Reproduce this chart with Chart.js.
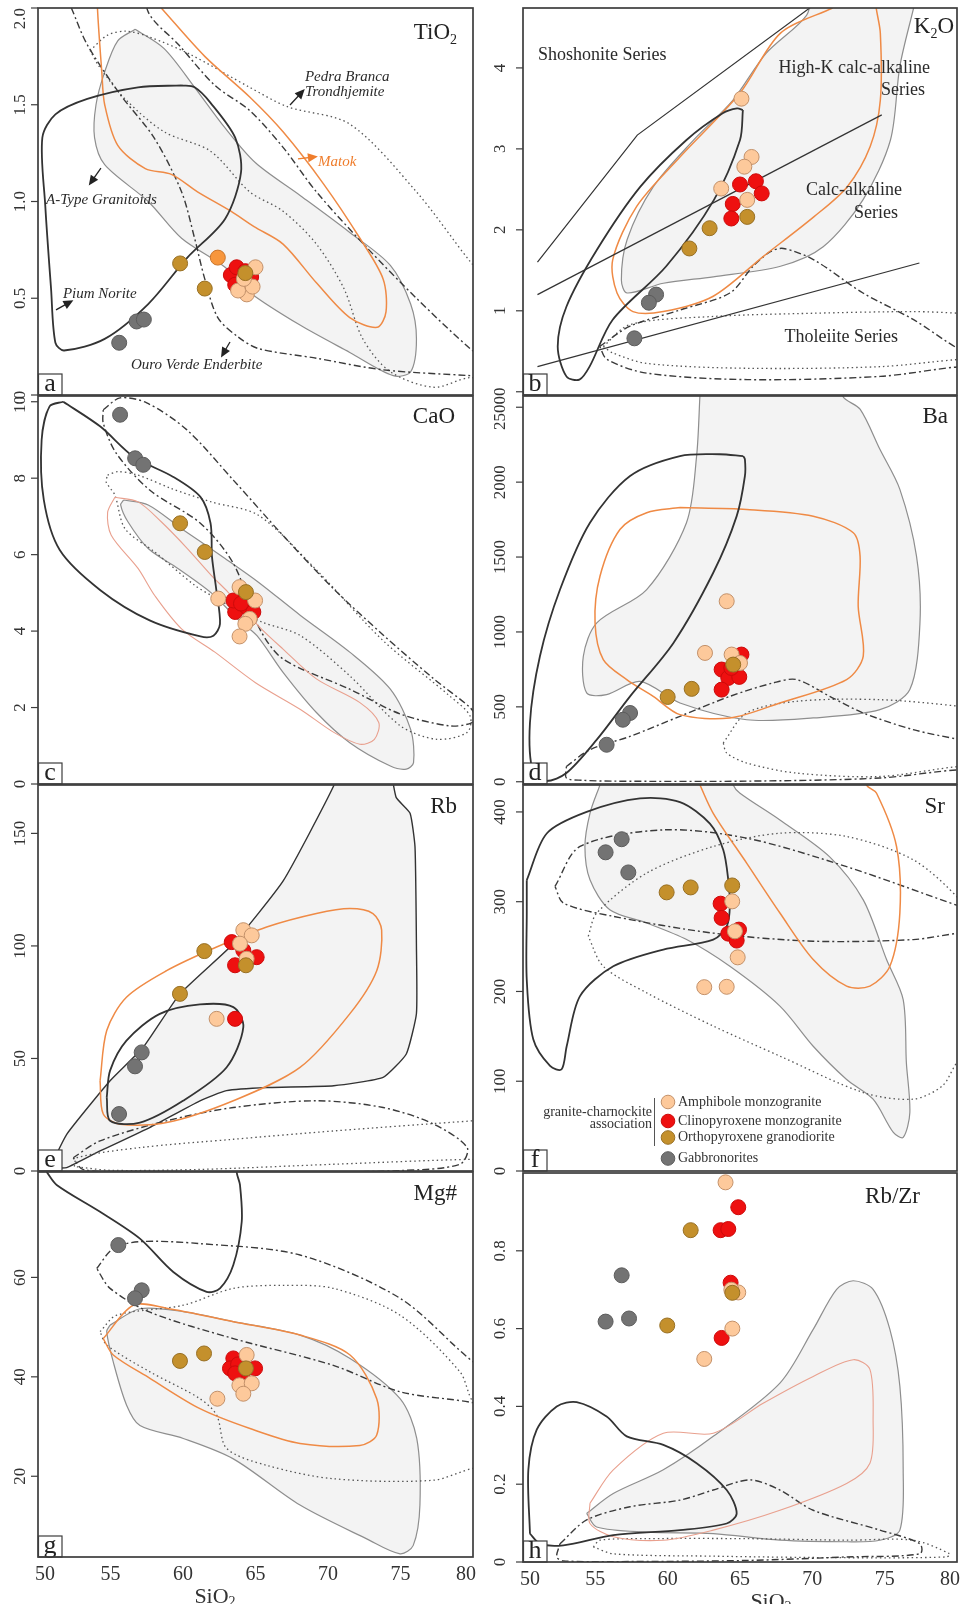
<!DOCTYPE html>
<html>
<head>
<meta charset="utf-8">
<script src="https://cdn.jsdelivr.net/npm/chart.js@4.4.1/dist/chart.umd.min.js"></script>
<style>
  body { margin: 0; background: #fff; }
  #wrap { position: relative; width: 961px; height: 1604px; overflow: hidden; }
  canvas { position: absolute; }
</style>
</head>
<body>
<div id="wrap"></div>
<script>
// ---- shared axis ----
const siTicks = [50, 55, 60, 65, 70, 75, 80];

// ---- a: TiO2 ----
const tiTicks = [0, 0.5, 1, 1.5, 2];
const tiLabels = ['0', '0.5', '1.0', '1.5', '2.0'];
const tiAmph = [[65.0, 0.66], [64.4, 0.52], [63.8, 0.54], [64.8, 0.56], [64.2, 0.60]];
const tiCpx = [[63.3, 0.62], [63.7, 0.66], [64.0, 0.58], [64.3, 0.64], [64.7, 0.61], [63.6, 0.57]];
const tiOpx = [[59.8, 0.68], [61.5, 0.55], [64.3, 0.63]];
const tiGab = [[55.6, 0.27], [56.8, 0.38], [57.3, 0.39]];
const tiOdd = [[62.4, 0.71]];
const tiAType = [[56.7, 1.89], [58.7, 1.79], [60.8, 1.59], [62.9, 1.38], [65.0, 1.20], [68.1, 1.03], [71.5, 0.84], [74.3, 0.67], [75.7, 0.47], [76.1, 0.29], [75.7, 0.12], [74.5, 0.10], [71.5, 0.22], [68.1, 0.36], [64.6, 0.53], [62.9, 0.66], [59.9, 0.81], [57.6, 1.00], [54.6, 1.19], [53.9, 1.33], [54.0, 1.50], [54.6, 1.67], [55.5, 1.83]];
const tiMatok = [[58.5, 2.0], [61.5, 1.75], [64.6, 1.54], [66.9, 1.36], [69.7, 1.09], [72.2, 0.81], [73.8, 0.60], [74.0, 0.43], [73.4, 0.35], [71.5, 0.40], [69.2, 0.58], [66.9, 0.78], [64.9, 0.87], [63.3, 0.95], [61.0, 1.05], [59.2, 1.14], [57.4, 1.17], [55.5, 1.29], [54.6, 1.50], [54.4, 1.67], [54.1, 2.0], [54.0, 2.3], [58.3, 2.3]];
const tiPium = [[59.9, 1.60], [56.9, 1.59], [53.4, 1.53], [51.2, 1.45], [50.3, 1.33], [50.5, 0.98], [50.9, 0.55], [51.2, 0.27], [51.8, 0.23], [54.6, 0.29], [57.6, 0.47], [60.3, 0.71], [62.9, 0.91], [64.0, 1.15], [63.6, 1.33], [61.9, 1.51], [60.8, 1.59]];
const tiOuro = [[52.3, 2.0], [53.4, 1.81], [55.7, 1.55], [58.0, 1.33], [59.9, 1.05], [60.8, 0.81], [61.5, 0.60], [62.4, 0.40], [63.8, 0.30], [65.2, 0.24], [69.2, 0.19], [73.8, 0.13], [79.8, 0.10], [82, 0.09], [82, 0.12], [79.8, 0.24], [76.1, 0.50], [72.7, 0.76], [69.2, 1.05], [66.9, 1.28], [64.6, 1.47], [62.2, 1.60], [59.7, 1.81], [57.6, 1.98], [56.8, 2.3], [52.0, 2.3]];
const tiPedra = [[53.6, 1.78], [54.8, 1.86], [56.1, 1.88], [57.7, 1.85], [60.5, 1.76], [64.6, 1.59], [67.2, 1.49], [71.5, 1.40], [76.1, 1.05], [79.8, 0.69], [82, 0.5], [82, 0.06], [79.8, 0.09], [77.3, 0.04], [74.3, 0.12], [72.4, 0.29], [71.1, 0.55], [69.2, 0.78], [66.9, 0.95], [64.6, 1.05], [61.9, 1.26], [58.7, 1.36], [56.0, 1.53], [54.2, 1.70]];

// ---- b: K2O ----
const kTicks = [0, 1, 2, 3, 4];
const kLabels = ['0', '1', '2', '3', '4'];
const kAmph = [[65.1, 3.62], [65.8, 2.90], [65.3, 2.78], [63.7, 2.51], [65.5, 2.37]];
const kCpx = [[65.0, 2.56], [66.1, 2.60], [66.5, 2.45], [64.5, 2.32], [64.4, 2.14]];
const kOpx = [[65.5, 2.16], [62.9, 2.02], [61.5, 1.77]];
const kGab = [[59.2, 1.20], [58.7, 1.10], [57.7, 0.66]];
const kShoLine = [[51.0, 1.6], [57.9, 3.17], [70.5, 4.83]];
const kHighKLine = [[51.0, 1.2], [74.8, 3.42]];
const kThoLine = [[51.0, 0.31], [77.4, 1.59]];
const kAType = [[77.0, 4.74], [76.05, 4.02], [75.4, 3.11], [73.5, 2.37], [70.75, 1.79], [67.8, 1.55], [63.15, 1.42], [59.7, 1.34], [57.2, 1.22], [56.8, 1.38], [57.2, 1.88], [59.0, 2.53], [61.8, 3.11], [64.5, 3.60], [66.8, 4.18], [69.6, 4.65], [70.5, 5.1], [77.3, 5.1]];
const kMatok = [[71.4, 4.74], [67.8, 4.43], [65.0, 3.69], [60.85, 2.90], [57.86, 2.29], [56.2, 1.63], [56.5, 1.22], [57.6, 0.99], [59.7, 0.99], [63.15, 1.18], [66.6, 1.67], [70.1, 2.16], [72.4, 2.53], [74.0, 3.03], [74.7, 3.60], [74.7, 4.43], [74.4, 4.76], [74.3, 5.1], [71.6, 5.1]];
const kPium = [[65.2, 3.48], [65.0, 3.11], [63.2, 2.37], [59.9, 1.55], [56.2, 0.89], [54.6, 0.31], [53.9, 0.15], [53.0, 0.19], [52.4, 0.56], [53.0, 1.05], [55.1, 1.75], [58.1, 2.53], [61.3, 3.11], [63.8, 3.44], [64.8, 3.50]];
const kOuro = [[55.3, 0.56], [57.4, 0.81], [60.85, 1.01], [64.3, 1.22], [65.9, 1.55], [67.1, 1.73], [68.0, 1.77], [70.1, 1.63], [73.5, 1.22], [77.0, 0.89], [80.2, 0.52], [82, 0.4], [82, 0.3], [80.2, 0.31], [74.7, 0.19], [65.5, 0.15], [58.55, 0.23], [55.8, 0.40]];
const kPedra = [[55.55, 0.56], [57.4, 0.83], [63.15, 0.93], [70.1, 0.97], [77.0, 0.99], [80.2, 0.97], [82, 0.95], [82, 0.4], [80.2, 0.40], [74.7, 0.31], [65.5, 0.29], [58.55, 0.35], [56.2, 0.48]];

// ---- c: CaO ----
const caTicks = [0, 2, 4, 6, 8, 10];
const caLabels = ['0', '2', '4', '6', '8', '10'];
const caAmph = [[62.43, 4.85], [63.9, 5.15], [64.97, 4.80], [64.6, 4.32], [64.3, 4.19], [63.9, 3.86]];
const caCpx = [[63.6, 4.50], [64.4, 4.63], [64.85, 4.50], [63.47, 4.80], [64.0, 4.72]];
const caOpx = [[59.8, 6.82], [61.5, 6.07], [64.34, 5.02]];
const caGab = [[55.66, 9.66], [56.7, 8.52], [57.26, 8.35]];
const caAType = [[55.9, 7.43], [57.6, 7.30], [59.9, 6.68], [62.9, 5.90], [65.2, 5.28], [68.1, 4.41], [71.5, 3.45], [74.3, 2.48], [75.7, 1.43], [75.9, 0.56], [75.4, 0.39], [74.3, 0.47], [71.5, 1.08], [69.2, 1.87], [66.9, 2.92], [65.1, 3.88], [63.8, 4.3], [61.95, 5.0], [59.65, 5.64], [57.6, 6.16], [56.2, 6.86], [55.7, 7.30]];
const caMatok = [[55.3, 7.5], [56.9, 7.38], [58.5, 6.86], [60.3, 6.16], [61.95, 5.46], [63.1, 5.02], [65.3, 4.1], [66.9, 3.53], [69.2, 2.75], [72.2, 2.13], [73.5, 1.61], [73.2, 1.17], [72.2, 1.04], [70.4, 1.35], [68.1, 1.95], [65.0, 2.65], [62.2, 3.45], [59.9, 4.06], [58.05, 4.93], [56.9, 5.64], [55.05, 6.51], [54.8, 7.1]];
const caPium = [[51.74, 10.0], [54.3, 9.35], [56.6, 8.56], [59.3, 8.04], [61.2, 7.51], [61.9, 6.82], [62.0, 5.94], [62.3, 5.07], [62.55, 4.19], [62.1, 3.88], [61.2, 3.86], [57.7, 4.28], [54.3, 5.07], [51.5, 6.12], [50.4, 7.43], [50.25, 9.0], [50.8, 9.88]];
const caOuro = [[54.5, 9.79], [55.66, 10.1], [57.5, 9.97], [60.25, 9.27], [63.47, 7.95], [66.9, 6.5], [70.4, 5.1], [73.8, 3.9], [77.3, 2.75], [79.8, 2.0], [80.1, 1.8], [79.9, 1.6], [78.4, 1.52], [75.0, 1.83], [71.5, 2.48], [66.9, 3.27], [65.3, 4.05], [63.47, 5.77], [61.2, 6.82], [57.7, 7.69], [55.4, 8.65], [54.5, 9.44]];
const caPedra = [[54.8, 8.08], [55.5, 8.17], [56.9, 8.08], [59.2, 7.73], [61.95, 7.38], [65.2, 7.03], [69.2, 5.6], [73.8, 3.75], [78.4, 2.3], [79.8, 1.78], [79.6, 1.35], [77.5, 1.17], [75.0, 1.52], [71.5, 2.83], [68.1, 3.88], [65.5, 4.23], [63.5, 4.6], [61.95, 4.93], [60.8, 5.20], [58.05, 6.07], [56.0, 6.68], [55.3, 7.56], [54.7, 7.9]];

// ---- d: Ba ----
const baTicks = [0, 500, 1000, 1500, 2000, 2500];
const baLabels = ['0', '500', '1000', '1500', '2000', '2500'];
const baAmph = [[64.08, 1205], [62.58, 860], [64.42, 849], [65.0, 793]];
const baCpx = [[65.1, 849], [63.73, 749], [64.19, 693], [64.95, 700], [63.73, 615], [64.4, 760]];
const baOpx = [[64.53, 782], [61.66, 620], [60.0, 566]];
const baGab = [[57.4, 459], [56.9, 414], [55.78, 247]];
const baAType = [[62.23, 2575], [62.0, 2174], [61.3, 1729], [58.55, 1283], [55.1, 1061], [54.17, 838], [54.4, 593], [55.78, 582], [58.09, 670], [60.85, 526], [65.46, 414], [70.06, 426], [74.67, 481], [76.74, 615], [77.44, 1061], [77.2, 1506], [76.05, 1952], [74.67, 2219], [73.3, 2487], [72.1, 2575], [72.0, 2800], [62.2, 2800]];
const baMatok = [[60.85, 1830], [65.46, 1818], [70.06, 1773], [72.83, 1662], [73.3, 1506], [73.17, 1172], [73.52, 838], [72.37, 682], [67.76, 526], [64.3, 426], [60.85, 448], [59.0, 570], [57.17, 682], [55.55, 815], [54.98, 1061], [55.32, 1372], [56.7, 1684], [58.55, 1796]];
const baPium = [[65.22, 2174], [63.6, 2186], [60.85, 2174], [57.4, 2041], [54.63, 1729], [52.56, 1283], [51.17, 838], [50.48, 392], [50.7, 58], [51.6, 5], [53.0, 58], [55.1, 281], [57.4, 570], [60.4, 927], [63.15, 1395], [64.77, 1773], [65.34, 2041], [65.34, 2152]];
const baOuro = [[53.0, 102], [54.63, 214], [57.4, 303], [60.85, 437], [64.3, 570], [67.3, 660], [68.9, 682], [71.2, 570], [73.52, 459], [76.97, 348], [80.2, 281], [82, 250], [82, 60], [80.2, 80], [74.67, 25], [65.46, 4], [56.24, 4], [54.1, 10], [53.0, 25]];
const baPedra = [[63.84, 259], [65.46, 459], [68.9, 537], [74.67, 548], [80.2, 503], [82, 470], [82, 90], [80.2, 102], [74.67, 35], [68.9, 58], [65.46, 125], [64.08, 192]];

// ---- e: Rb ----
const rbTicks = [0, 50, 100, 150];
const rbLabels = ['0', '50', '100', '150'];
const rbAmph = [[64.16, 107], [64.74, 104.7], [63.93, 101], [64.39, 94.3], [62.32, 67.6]];
const rbCpx = [[63.36, 101.7], [64.16, 98], [65.08, 95], [63.59, 91.4], [63.59, 67.6]];
const rbOpx = [[61.47, 97.7], [59.79, 78.7], [64.34, 91.4]];
const rbGab = [[57.15, 52.7], [56.69, 46.5], [55.59, 25.3]];
const rbAType = [[50.83, 1.5], [51.98, 16.3], [54.97, 40.1], [57.26, 55], [59.79, 78.7], [63.47, 101], [66.92, 129], [70.37, 170.8], [71, 185], [74, 185], [74.7, 166], [75.66, 159], [76.0, 144], [76.1, 99.5], [76.1, 70], [75.4, 52], [73.8, 41.6], [70.4, 37.9], [65.8, 37.1], [63.0, 35.7], [61.17, 31.2], [57.7, 19.3], [54.28, 8.9], [51.98, 1.5]];
const rbMatok = [[54.28, 40], [54.5, 25.3], [55.66, 20.8], [58.87, 21.5], [63.47, 31.2], [68.07, 46], [71.5, 69.8], [73.36, 89], [73.7, 107], [73.1, 114.4], [71.5, 116.6], [69.2, 114.4], [65.77, 108.4], [62.32, 99.5], [58.87, 89], [56.1, 77.2], [54.74, 62.4]];
const rbPium = [[54.74, 32.7], [54.97, 22.3], [57.03, 21.5], [60.0, 31.2], [63.0, 46], [64.16, 63.9], [63.47, 72.8], [61.17, 74], [58.4, 69.8], [56.1, 57.9], [54.97, 44.6]];
const rbOuro = [[52.43, 5.9], [54.28, 13.4], [58.87, 22.3], [63.47, 28.2], [69.2, 31.2], [73.8, 28.2], [77.3, 20.8], [79.6, 10.4], [79.1, 3], [75, 0.2], [65.8, -0.7], [56.6, -0.7], [53.1, 0.7]];
const rbPedra = [[52.5, 2], [52.7, 5.9], [57.03, 10.4], [63.47, 14.1], [70.4, 17.8], [80, 22.3], [82, 23], [82, 4.5], [80, 5.2], [70.4, 3], [61.17, 0.7], [55, 0.3]];

// ---- f: Sr ----
const srTicks = [0, 100, 200, 300, 400];
const srLabels = ['0', '100', '200', '300', '400'];
const srAmph = [[64.46, 300.4], [64.65, 267], [64.84, 238], [62.53, 204.8], [64.08, 205.2]];
const srCpx = [[63.66, 297.8], [63.73, 281.9], [64.19, 264.4], [64.93, 268.9], [64.77, 256.7]];
const srOpx = [[59.93, 310.4], [61.59, 315.9], [64.46, 318.1]];
const srGab = [[56.82, 369.6], [55.71, 355], [57.28, 332.6]];
const srAType = [[55.32, 430], [54.63, 398.5], [54.28, 361.5], [54.63, 324.4], [56.0, 291], [58.55, 276.3], [61.31, 257.8], [64.3, 228], [67.76, 183.7], [70.06, 139], [72.37, 102], [74.2, 80], [75.6, 43], [76.28, 37.4], [76.74, 65], [76.5, 120.7], [76.28, 191], [75.13, 235.6], [73.52, 302], [71.2, 350], [67.76, 391], [65.0, 420.8], [64.53, 430], [64, 460], [55.5, 460]];
const srMatok = [[62.23, 430], [63.15, 398.5], [65.46, 343], [67.76, 287.4], [70.06, 235.6], [72.37, 206], [73.98, 206], [75.36, 228], [76.05, 287.4], [75.82, 361.5], [74.44, 420.8], [73.75, 430], [73.5, 460], [62, 460]];
const srPium = [[50.26, 324], [51.64, 376], [54.4, 400], [58.09, 415], [60.85, 411], [62.92, 387], [63.84, 357.8], [64.19, 324], [64.3, 294.8], [64.08, 272.6], [63.15, 257.8], [59.7, 246.7], [56.24, 228], [53.94, 194.8], [53.02, 139], [52.67, 113.3], [51.87, 117], [50.71, 146.7], [50.26, 213], [50.26, 287]];
const srOuro = [[52.21, 317], [53.94, 361.5], [59.7, 380], [65.46, 370.8], [72.37, 339], [80.2, 294.8], [82, 285], [82, 265], [80.2, 265], [76.97, 257.8], [70.06, 256], [63.15, 265], [56.24, 283.7], [52.8, 298.5]];
const srPedra = [[54.51, 261.5], [55.1, 287.4], [58.55, 331.9], [63.15, 361.5], [67.76, 376.3], [72.37, 372.6], [76.97, 346.7], [80.2, 302], [82, 260], [82, 130], [80.2, 124], [79, 95], [76.97, 80], [73.52, 87.4], [67.76, 128], [63.15, 161.5], [58.55, 198.5], [55.55, 228]];

// ---- g: Mg# ----
const mgTicks = [20, 40, 60];
const mgLabels = ['20', '40', '60'];
const mgAmph = [[64.39, 44.4], [63.89, 38.3], [64.74, 38.7], [64.16, 36.6], [62.37, 35.6]];
const mgCpx = [[63.47, 43.7], [63.24, 41.7], [64.16, 41], [64.97, 41.7], [63.8, 42.5], [63.6, 40.7]];
const mgOpx = [[59.79, 43.2], [61.45, 44.7], [64.34, 41.7]];
const mgGab = [[55.54, 66.5], [57.15, 57.4], [56.69, 55.8]];
const mgAType = [[54.97, 50.4], [57.03, 53.7], [60.02, 53.1], [63.47, 51.1], [68.07, 48.4], [71.52, 43.7], [74.97, 35.6], [76.12, 27.6], [76.34, 14.2], [75.88, 6.1], [74.97, 4.4], [72.67, 7.4], [68.07, 14.2], [63.47, 23.5], [60.02, 27.6], [57.03, 30.2], [56.11, 34.3], [55.19, 43], [54.74, 49.1]];
const mgMatok = [[54.5, 47.7], [56.57, 54.4], [58.87, 53.8], [63.47, 51.1], [68.07, 48.4], [71.52, 44.4], [73.36, 35.6], [73.36, 28.3], [72.2, 26.2], [68.07, 26.6], [64.62, 29.6], [61.17, 33.6], [57.72, 39.7], [55.19, 44.4]];
const mgPium = [[50.6, 81.2], [51.29, 78.6], [54.28, 73.2], [57.03, 67.8], [59.33, 61.1], [61.63, 57.1], [62.55, 57.8], [63.47, 62.5], [64.05, 71.2], [63.93, 78.6], [63.7, 81.2], [63.6, 90], [50.5, 90]];
const mgOuro = [[54.05, 61.8], [55.19, 65.8], [57.03, 67.2], [61.17, 66.8], [68.07, 64.5], [74.97, 55.8], [80.02, 43], [82, 40], [82, 33], [80, 34.8], [74.97, 37], [70.37, 42.3], [63.47, 47.7], [57.72, 53], [54.97, 57.8]];
const mgPedra = [[54.28, 49.1], [55.43, 52.4], [60.02, 54.4], [63.47, 57.8], [66.92, 58.4], [70.37, 57.8], [74.97, 52.4], [79.1, 41], [80, 35], [82, 30], [82, 22], [80, 21.6], [77.26, 19.2], [70.37, 19.5], [65.77, 22.2], [63.01, 25.6], [62.32, 32.3], [61.17, 35.6], [57.72, 41], [54.74, 46.4]];

// ---- h: Rb/Zr ----
const rzTicks = [0, 0.2, 0.4, 0.6, 0.8];
const rzLabels = ['0', '0.2', '0.4', '0.6', '0.8'];
const rzAmph = [[64.0, 0.976], [64.88, 0.693], [64.47, 0.600], [62.53, 0.522], [64.4, 0.70]];
const rzCpx = [[64.88, 0.912], [63.66, 0.853], [64.19, 0.856], [64.35, 0.718], [63.73, 0.576]];
const rzOpx = [[61.59, 0.853], [59.97, 0.608], [64.47, 0.692]];
const rzGab = [[56.82, 0.737], [55.71, 0.618], [57.33, 0.626]];
const rzAType = [[54.4, 0.125], [56.24, 0.176], [59.7, 0.237], [63.15, 0.323], [67.76, 0.46], [70.06, 0.598], [71.68, 0.701], [72.83, 0.723], [74.2, 0.701], [75.36, 0.598], [76.05, 0.452], [76.28, 0.237], [76.05, 0.082], [74.67, 0.056], [72.37, 0.052], [67.76, 0.056], [63.15, 0.073], [58.55, 0.077], [55.09, 0.09]];
const rzMatok = [[54.63, 0.151], [56.24, 0.237], [59.7, 0.331], [63.15, 0.331], [66.6, 0.408], [70.06, 0.477], [72.83, 0.520], [73.98, 0.495], [74.2, 0.366], [73.98, 0.254], [72.37, 0.202], [67.76, 0.133], [63.15, 0.082], [59.7, 0.056], [56.24, 0.065], [54.63, 0.099]];
const rzPium = [[50.48, 0.073], [50.37, 0.237], [50.95, 0.34], [52.33, 0.40], [53.71, 0.411], [55.78, 0.374], [57.17, 0.323], [59.7, 0.301], [62.0, 0.254], [64.08, 0.185], [64.77, 0.125], [64.08, 0.099], [60.85, 0.082], [56.24, 0.069], [52.79, 0.043], [51.17, 0.047]];
const rzOuro = [[52.56, 0.047], [54.4, 0.108], [57.4, 0.142], [60.85, 0.159], [63.15, 0.185], [65.69, 0.211], [67.76, 0.185], [70.06, 0.133], [74.67, 0.082], [77.44, 0.047], [77.44, 0.021], [72.37, 0.013], [65.46, 0.004], [56.24, 0.001], [52.79, 0.003], [52.33, 0.013]];
const rzPedra = [[54.86, 0.039], [55.32, 0.056], [58.55, 0.06], [65.46, 0.06], [72.37, 0.056], [76.97, 0.056], [79.5, 0.021], [79.28, 0.013], [72.37, 0.011], [63.15, 0.015], [56.24, 0.021]];

// ---- styles ----
const SERIF = '"Liberation Serif", "Times New Roman", serif';

const LINE = {
  aType: { borderColor: '#8e8e8e', borderWidth: 1.2, backgroundColor: '#f3f3f3', fill: 'shape', order: 9 },
  matok: { borderColor: '#ef8a45', borderWidth: 1.5, order: 7 },
  pium: { borderColor: '#333', borderWidth: 1.8, order: 6 },
  ouro: { borderColor: '#3a3a3a', borderWidth: 1.4, borderDash: [7, 3, 2, 3], order: 8 },
  pedra: { borderColor: '#555', borderWidth: 1.3, borderDash: [1.5, 3], order: 8 },
  series: { borderColor: '#333', borderWidth: 1.2, order: 5, open: true },
};

const MARK = {
  cpx: { backgroundColor: '#ee1010', borderColor: '#cc0a0a', order: 4 },
  amph: { backgroundColor: '#fdc99b', borderColor: '#c3916a', order: 3 },
  opx: { backgroundColor: '#c4902c', borderColor: '#987025', order: 2 },
  gab: { backgroundColor: '#737373', borderColor: '#5c5c5c', order: 1 },
  odd: { backgroundColor: '#f7963c', borderColor: '#c9752c', order: 2 },
};

const ORANGE_TXT = '#ef7d2c';

// ---- panels (layout) ----
const panels = [
  { letter: 'a', col: 0, T: 8, B: 395, yMin: 0, yMax: 2, ticks: tiTicks, labels: tiLabels,
    title: [['TiO'], ['2', 1]], titleDx: 16, titleDy: 31,
    fields: [['aType', tiAType], ['matok', tiMatok], ['pium', tiPium], ['ouro', tiOuro], ['pedra', tiPedra]],
    points: [['cpx', tiCpx], ['amph', tiAmph], ['opx', tiOpx], ['gab', tiGab], ['odd', tiOdd]],
    notes: [
      { t: 'Pedra Branca', x: 68.41, y: 1.643, it: 1 }, { t: 'Trondhjemite', x: 68.41, y: 1.566, it: 1 },
      { t: 'Matok', x: 69.31, y: 1.204, it: 1, c: ORANGE_TXT },
      { t: 'A-Type Granitoids', x: 50.55, y: 1.008, it: 1 },
      { t: 'Pium Norite', x: 51.72, y: 0.522, it: 1 },
      { t: 'Ouro Verde Enderbite', x: 56.41, y: 0.155, it: 1 },
    ],
    arrows: [
      [67.38, 1.499, 68.21, 1.566], [67.93, 1.22, 69.03, 1.23, ORANGE_TXT],
      [54.34, 1.173, 53.66, 1.10], [51.24, 0.44, 52.2, 0.48], [63.24, 0.274, 62.76, 0.212],
    ] },
  { letter: 'b', col: 1, T: 8, B: 395, yMin: -0.04, yMax: 4.74, ticks: kTicks, labels: kLabels,
    title: [['K'], ['2', 1], ['O']], titleDx: 3, titleDy: 25,
    fields: [['aType', kAType], ['matok', kMatok], ['pium', kPium], ['ouro', kOuro], ['pedra', kPedra],
      ['series', kShoLine], ['series', kHighKLine], ['series', kThoLine]],
    points: [['cpx', kCpx], ['amph', kAmph], ['opx', kOpx], ['gab', kGab]],
    notes: [
      { t: 'Shoshonite Series', x: 51.04, y: 4.16, big: 1 },
      { t: 'High-K calc-alkaline', x: 78.13, y: 4.0, big: 1, r: 1 },
      { t: 'Series', x: 77.78, y: 3.73, big: 1, r: 1 },
      { t: 'Calc-alkaline', x: 76.19, y: 2.49, big: 1, r: 1 },
      { t: 'Series', x: 75.92, y: 2.21, big: 1, r: 1 },
      { t: 'Tholeiite Series', x: 75.92, y: 0.667, big: 1, r: 1 },
    ] },
  { letter: 'c', col: 0, T: 396, B: 784, yMin: 0, yMax: 10.15, ticks: caTicks, labels: caLabels,
    title: [['CaO']], titleDx: 18, titleDy: 27,
    over: { matok: { borderColor: '#e9a08e', borderWidth: 1.1 } },
    fields: [['aType', caAType], ['matok', caMatok], ['pium', caPium], ['ouro', caOuro], ['pedra', caPedra]],
    points: [['cpx', caCpx], ['amph', caAmph], ['opx', caOpx], ['gab', caGab]] },
  { letter: 'd', col: 1, T: 396, B: 784, yMin: -15, yMax: 2575, ticks: baTicks, labels: baLabels,
    title: [['Ba']], titleDx: 9, titleDy: 27,
    fields: [['aType', baAType], ['matok', baMatok], ['pium', baPium], ['ouro', baOuro], ['pedra', baPedra]],
    points: [['cpx', baCpx], ['amph', baAmph], ['opx', baOpx], ['gab', baGab]] },
  { letter: 'e', col: 0, T: 785, B: 1171, yMin: 0, yMax: 171.5, ticks: rbTicks, labels: rbLabels,
    title: [['Rb']], titleDx: 16, titleDy: 28,
    over: { aType: { borderColor: '#333', borderWidth: 1.4, tension: 0.15 } },
    fields: [['aType', rbAType], ['matok', rbMatok], ['pium', rbPium], ['ouro', rbOuro], ['pedra', rbPedra]],
    points: [['cpx', rbCpx], ['amph', rbAmph], ['opx', rbOpx], ['gab', rbGab]] },
  { letter: 'f', col: 1, T: 785, B: 1171, yMin: 0, yMax: 430, ticks: srTicks, labels: srLabels,
    title: [['Sr']], titleDx: 12, titleDy: 28, legend: true,
    fields: [['aType', srAType], ['matok', srMatok], ['pium', srPium], ['ouro', srOuro], ['pedra', srPedra]],
    points: [['cpx', srCpx], ['amph', srAmph], ['opx', srOpx], ['gab', srGab]] },
  { letter: 'g', col: 0, T: 1172, B: 1557, yMin: 3.76, yMax: 81.2, ticks: mgTicks, labels: mgLabels,
    title: [['Mg#']], titleDx: 16, titleDy: 28, xAxis: { tx: 215 },
    fields: [['aType', mgAType], ['matok', mgMatok], ['pium', mgPium], ['ouro', mgOuro], ['pedra', mgPedra]],
    points: [['cpx', mgCpx], ['amph', mgAmph], ['opx', mgOpx], ['gab', mgGab]] },
  { letter: 'h', col: 1, T: 1173, B: 1562, yMin: 0, yMax: 1.0, ticks: rzTicks, labels: rzLabels,
    title: [['Rb/Zr']], titleDx: 37, titleDy: 30, xAxis: { tx: 771 },
    over: { matok: { borderColor: '#e9a08e', borderWidth: 1.1 } },
    fields: [['aType', rzAType], ['matok', rzMatok], ['pium', rzPium], ['ouro', rzOuro], ['pedra', rzPedra]],
    points: [['cpx', rzCpx], ['amph', rzAmph], ['opx', rzOpx], ['gab', rzGab]] },
];

const COLS = [{ x0: 0, w: 480, L: 38, R: 473, labelDx: 17 }, { x0: 480, w: 481, L: 523, R: 957, labelDx: 22 }];

function toXY(pts, closed) {
  const d = pts.map(([x, y]) => ({ x, y }));
  if (closed) d.push({ x: pts[0][0], y: pts[0][1] });
  return d;
}

function drawRich(ctx, parts, x, y, size, align) {
  ctx.textAlign = 'left';
  const widths = parts.map(([t, sub]) => {
    ctx.font = (sub ? Math.round(size * 0.62) : size) + 'px ' + SERIF;
    return ctx.measureText(t).width;
  });
  const total = widths.reduce((s, w) => s + w, 0);
  let cx = align === 'center' ? x - total / 2 : x - total;
  parts.forEach(([t, sub], i) => {
    ctx.font = (sub ? Math.round(size * 0.62) : size) + 'px ' + SERIF;
    ctx.fillText(t, cx, sub ? y + size * 0.22 : y);
    cx += widths[i];
  });
}

function drawArrow(ctx, x1, y1, x2, y2, color) {
  const ang = Math.atan2(y2 - y1, x2 - x1);
  ctx.strokeStyle = color; ctx.fillStyle = color; ctx.lineWidth = 1.3;
  ctx.beginPath(); ctx.moveTo(x1, y1); ctx.lineTo(x2, y2); ctx.stroke();
  ctx.beginPath();
  ctx.moveTo(x2 + 4 * Math.cos(ang), y2 + 4 * Math.sin(ang));
  ctx.lineTo(x2 - 6 * Math.cos(ang) + 4.5 * Math.sin(ang), y2 - 6 * Math.sin(ang) - 4.5 * Math.cos(ang));
  ctx.lineTo(x2 - 6 * Math.cos(ang) - 4.5 * Math.sin(ang), y2 - 6 * Math.sin(ang) + 4.5 * Math.cos(ang));
  ctx.closePath(); ctx.fill();
}

function decor(p) {
  return {
    id: 'decor',
    afterDraw(chart) {
      const { ctx, chartArea: a, scales: { x, y } } = chart;
      const col = COLS[p.col];
      ctx.save();

      // annotations
      (p.notes || []).forEach(n => {
        ctx.font = (n.it ? 'italic 15px ' : '18px ') + SERIF;
        ctx.fillStyle = n.c || '#2a2a2a';
        ctx.textAlign = n.r ? 'right' : 'left';
        ctx.textBaseline = 'middle';
        ctx.fillText(n.t, x.getPixelForValue(n.x), y.getPixelForValue(n.y));
      });
      (p.arrows || []).forEach(([x1, y1, x2, y2, c]) => {
        drawArrow(ctx, x.getPixelForValue(x1), y.getPixelForValue(y1),
          x.getPixelForValue(x2), y.getPixelForValue(y2), c || '#222');
      });

      // legend
      if (p.legend) {
        const lx = a.left, ly = a.top;
        ctx.font = '14px ' + SERIF; ctx.fillStyle = '#333';
        ctx.textAlign = 'right'; ctx.textBaseline = 'middle';
        ctx.fillText('granite-charnockite', lx + 129, ly + 327);
        ctx.fillText('association', lx + 129, ly + 339);
        ctx.strokeStyle = '#555'; ctx.lineWidth = 1;
        ctx.beginPath(); ctx.moveTo(lx + 131.5, ly + 313); ctx.lineTo(lx + 131.5, ly + 361); ctx.stroke();
        const items = [['amph', 'Amphibole monzogranite', 317], ['cpx', 'Clinopyroxene monzogranite', 336],
          ['opx', 'Orthopyroxene granodiorite', 352.5], ['gab', 'Gabbronorites', 373.5]];
        items.forEach(([k, label, dy]) => {
          ctx.fillStyle = MARK[k].backgroundColor; ctx.strokeStyle = MARK[k].borderColor;
          ctx.beginPath(); ctx.arc(lx + 145, ly + dy, 6.8, 0, Math.PI * 2); ctx.fill(); ctx.stroke();
          ctx.fillStyle = '#333'; ctx.textAlign = 'left';
          ctx.fillText(label, lx + 155, ly + dy);
        });
      }

      // panel letter box
      ctx.fillStyle = '#fff'; ctx.strokeStyle = '#3d3d3d'; ctx.lineWidth = 1.2;
      ctx.fillRect(a.left, a.bottom - 21, 24, 21);
      ctx.strokeRect(a.left + 0.5, a.bottom - 21, 23.5, 21);
      ctx.fillStyle = '#222'; ctx.font = '26px ' + SERIF;
      ctx.textAlign = 'center'; ctx.textBaseline = 'alphabetic';
      ctx.fillText(p.letter, a.left + 12, a.bottom - 4);

      // title
      ctx.fillStyle = '#222'; ctx.textBaseline = 'alphabetic';
      drawRich(ctx, p.title, a.right - p.titleDx, a.top + p.titleDy, 23, 'right');

      // frame
      ctx.strokeStyle = '#3d3d3d'; ctx.lineWidth = 1.7;
      ctx.strokeRect(a.left, a.top, a.right - a.left, a.bottom - a.top);

      // y ticks + rotated labels
      ctx.lineWidth = 1.2; ctx.fillStyle = '#333'; ctx.font = '17px ' + SERIF;
      p.ticks.forEach((v, i) => {
        const py = y.getPixelForValue(v);
        ctx.beginPath(); ctx.moveTo(a.left - 7, py); ctx.lineTo(a.left, py); ctx.stroke();
        const half = ctx.measureText(p.labels[i]).width / 2;
        const cy = Math.max(py, half + 6);
        ctx.save();
        ctx.translate(a.left - col.labelDx, cy); ctx.rotate(-Math.PI / 2);
        ctx.textAlign = 'center'; ctx.textBaseline = 'middle';
        ctx.fillText(p.labels[i], 0, 0);
        ctx.restore();
      });

      // x axis for bottom row
      if (p.xAxis) {
        ctx.font = '20px ' + SERIF; ctx.fillStyle = '#333'; ctx.textBaseline = 'middle';
        siTicks.forEach((v, i) => {
          const px = x.getPixelForValue(v);
          let tx = px;
          ctx.textAlign = 'center';
          if (i === 0) { ctx.textAlign = 'left'; tx = px - 3; }
          if (i === siTicks.length - 1) { ctx.textAlign = 'right'; tx = px + 3; }
          ctx.fillText(String(v), tx, a.bottom + 18);
        });
        ctx.textBaseline = 'middle';
        drawRich(ctx, [['SiO'], ['2', 1]], p.xAxis.tx - COLS[p.col].x0, a.bottom + 40, 22, 'center');
      }
      ctx.restore();
    }
  };
}

const wrap = document.getElementById('wrap');

panels.forEach(p => {
  const col = COLS[p.col];
  const bottomExtra = p.xAxis ? 50 : 0;
  const canvas = document.createElement('canvas');
  canvas.width = col.w;
  canvas.height = p.B - p.T + 12 + bottomExtra;
  canvas.style.left = col.x0 + 'px';
  canvas.style.top = (p.T - 6) + 'px';
  wrap.appendChild(canvas);

  const datasets = [];
  p.fields.forEach(([kind, pts]) => {
    const st = Object.assign({}, LINE[kind], (p.over || {})[kind] || {});
    const open = st.open; delete st.open;
    datasets.push(Object.assign({
      data: toXY(pts, !open),
      showLine: true,
      pointRadius: 0,
      pointHoverRadius: 0,
      tension: open ? 0 : 0.3,
      fill: false,
    }, st));
  });
  p.points.forEach(([kind, pts]) => {
    datasets.push(Object.assign({
      data: toXY(pts, false),
      showLine: false,
      pointRadius: 7.5,
      pointHoverRadius: 7.5,
      borderWidth: 1,
    }, MARK[kind]));
  });

  new Chart(canvas, {
    type: 'scatter',
    data: { datasets },
    options: {
      responsive: false,
      animation: false,
      events: [],
      layout: {
        autoPadding: false,
        padding: { left: col.L - col.x0, right: col.w - (col.R - col.x0), top: 6, bottom: 6 + bottomExtra },
      },
      scales: {
        x: { type: 'linear', display: false, min: 50, max: 80 },
        y: { type: 'linear', display: false, min: p.yMin, max: p.yMax },
      },
      plugins: { legend: { display: false }, tooltip: { enabled: false } },
    },
    plugins: [decor(p)],
  });
});
</script>
</body>
</html>
